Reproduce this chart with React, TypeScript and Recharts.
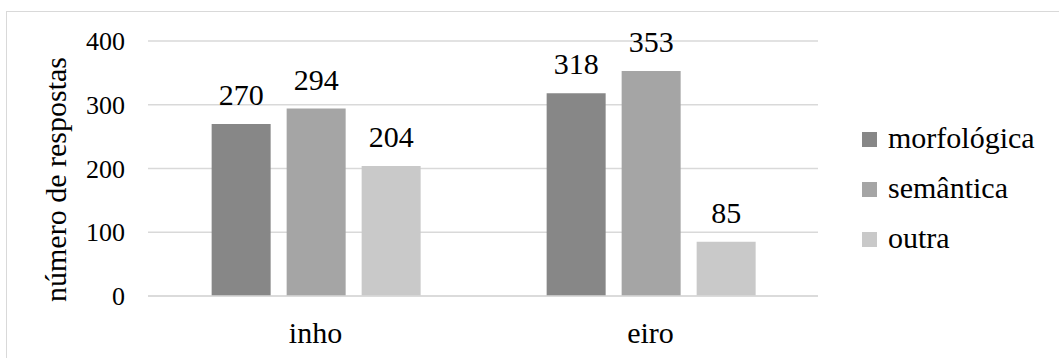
import { BarChart, Bar, XAxis, YAxis, CartesianGrid, Legend, LabelList } from "recharts";

const categories = ["inho", "eiro"];
const morfologica = [270, 318];
const semantica = [294, 353];
const outra = [204, 85];
const yTicks = [0, 100, 200, 300, 400];

const seriesNames = ["morfológica", "semântica", "outra"];
const colors = ["#878787", "#a5a5a5", "#c9c9c9"];

const data = categories.map((c, i) => ({
  name: c,
  morfologica: morfologica[i],
  semantica: semantica[i],
  outra: outra[i],
}));

const FONT = "Liberation Serif, Tinos, Times New Roman, DejaVu Serif, serif";

function LegendBox() {
  return (
    <div style={{ fontFamily: FONT, fontSize: 30, color: "#000", lineHeight: "34px" }}>
      {seriesNames.map((n, i) => (
        <div key={n} style={{ display: "flex", alignItems: "center", height: 34, marginBottom: 16 }}>
          <span style={{ width: 15, height: 15, background: colors[i], marginRight: 11, display: "inline-block", marginTop: 2 }} />
          <span>{n}</span>
        </div>
      ))}
    </div>
  );
}

export default function App() {
  const yTickStyle = { fontFamily: FONT, fontSize: 26, fill: "#000" };
  const bigText = { fontFamily: FONT, fontSize: 30, fill: "#000" };
  return (
    <div style={{ position: "absolute", left: 0, top: 0, width: 1059, height: 358, background: "#fff", fontFamily: FONT }}>
      <div
        style={{
          position: "absolute",
          left: 6,
          top: 11,
          width: 1053,
          height: 347,
          borderTop: "1px solid #d9d9d9",
          borderLeft: "1px solid #d9d9d9",
          boxSizing: "border-box",
        }}
      />
      <div style={{ position: "absolute", left: 0, top: 0 }}>
        <BarChart
          width={1059}
          height={358}
          data={data}
          margin={{ top: 41, right: 241, bottom: 32, left: 0 }}
          barGap={16}
          barCategoryGap="19%"
          style={{ fontFamily: FONT }}
        >
          <CartesianGrid vertical={false} stroke="#d9d9d9" strokeWidth={1.3} />
          <XAxis
            dataKey="name"
            axisLine={{ stroke: "#d9d9d9", strokeWidth: 1.3 }}
            tickLine={false}
            tickSize={0}
            tickMargin={26}
            tick={bigText}
            height={30}
          />
          <YAxis
            width={148}
            domain={[0, 400]}
            ticks={yTicks}
            axisLine={false}
            tickLine={false}
            tickSize={0}
            tickMargin={23}
            tick={yTickStyle}
            label={{
              value: "número de respostas",
              angle: -90,
              position: "insideLeft",
              offset: 55,
              dy: 11,
              style: { textAnchor: "middle", ...bigText },
            }}
          />
          <Legend
            layout="vertical"
            align="center"
            verticalAlign="middle"
            content={() => <LegendBox />}
            wrapperStyle={{ left: 862, top: 121, width: 195 }}
          />
          <Bar dataKey="morfologica" name={seriesNames[0]} fill={colors[0]} isAnimationActive={false}>
            <LabelList dataKey="morfologica" position="top" offset={19} style={bigText} />
          </Bar>
          <Bar dataKey="semantica" name={seriesNames[1]} fill={colors[1]} isAnimationActive={false}>
            <LabelList dataKey="semantica" position="top" offset={19} style={bigText} />
          </Bar>
          <Bar dataKey="outra" name={seriesNames[2]} fill={colors[2]} isAnimationActive={false}>
            <LabelList dataKey="outra" position="top" offset={19} style={bigText} />
          </Bar>
        </BarChart>
      </div>
    </div>
  );
}
